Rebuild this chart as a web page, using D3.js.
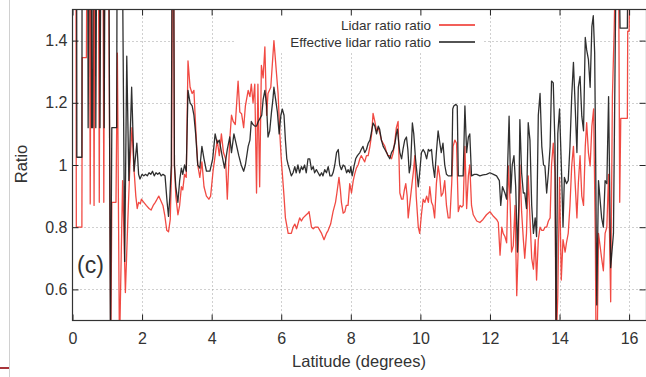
<!DOCTYPE html>
<html>
<head>
<meta charset="utf-8">
<script src="https://cdn.jsdelivr.net/npm/d3@7"></script>
<style>
  body { margin: 0; background: #fff; }
  svg { display: block; }
  text { font-family: "Liberation Sans", Arial, sans-serif; fill: #333; }
</style>
</head>
<body>
<div id="chart"></div>
<script>
// Latitude / value pairs (values past the frame are clipped)
var latLidar = [0.00,0.10,0.11,0.27,0.28,0.40,0.41,0.49,0.51,0.53,0.60,0.62,0.64,0.75,0.77,0.79,0.88,0.90,0.92,1.04,
  1.10,1.13,1.25,1.29,1.35,1.44,1.52,1.59,1.65,1.71,1.76,1.82,1.86,1.90,1.95,1.98,2.05,2.12,2.20,2.26,
  2.32,2.38,2.43,2.48,2.54,2.60,2.65,2.71,2.76,2.81,2.85,2.87,2.91,2.93,2.97,3.03,3.08,3.13,3.17,3.22,
  3.27,3.32,3.38,3.44,3.49,3.55,3.60,3.66,3.72,3.78,3.85,3.92,3.97,4.04,4.10,4.16,4.22,4.28,4.34,4.40,
  4.45,4.52,4.57,4.62,4.68,4.76,4.81,4.86,4.92,4.97,5.05,5.10,5.14,5.19,5.24,5.29,5.33,5.38,5.43,5.48,
  5.53,5.58,5.62,5.70,5.79,5.86,5.91,5.96,6.00,6.08,6.12,6.20,6.29,6.34,6.39,6.44,6.53,6.58,6.63,6.72,
  6.77,6.80,6.87,6.92,6.97,7.06,7.11,7.16,7.23,7.30,7.35,7.42,7.49,7.56,7.60,7.66,7.70,7.73,7.78,7.83,
  7.87,7.92,7.97,8.02,8.07,8.11,8.16,8.21,8.26,8.30,8.35,8.40,8.45,8.50,8.55,8.60,8.64,8.69,8.74,8.79,
  8.84,8.88,8.93,8.98,9.03,9.07,9.12,9.17,9.22,9.27,9.31,9.36,9.41,9.46,9.50,9.54,9.58,9.62,9.65,9.70,
  9.74,9.80,9.84,9.88,9.94,9.98,10.03,10.08,10.13,10.18,10.23,10.27,10.32,10.36,10.41,10.46,10.51,10.56,10.60,10.65,
  10.70,10.75,10.80,10.85,10.90,10.94,10.99,11.04,11.09,11.14,11.19,11.23,11.28,11.33,11.38,11.42,11.47,11.52,11.62,11.71,
  11.80,11.90,12.00,12.10,12.19,12.24,12.29,12.34,12.38,12.43,12.48,12.53,12.58,12.62,12.67,12.72,12.77,12.82,12.86,12.91,
  12.96,13.00,13.05,13.10,13.15,13.20,13.25,13.30,13.34,13.39,13.44,13.49,13.54,13.58,13.63,13.68,13.73,13.77,13.82,13.87,
  13.90,13.95,14.00,14.05,14.10,14.16,14.20,14.25,14.30,14.35,14.40,14.45,14.50,14.54,14.59,14.64,14.69,14.74,14.78,14.83,
  14.88,14.93,14.98,15.03,15.05,15.08,15.12,15.21,15.26,15.31,15.36,15.41,15.47,15.52,15.57,15.60,15.70,15.73,15.76,15.95,
  15.96,16.00,16.02,16.05];
var lidarRatio = [1.60,1.60,0.80,0.80,1.345,1.345,1.60,1.60,0.875,1.60,1.60,0.87,1.60,1.60,0.88,1.60,1.60,0.88,1.60,1.60,
  0.40,0.88,0.88,1.36,0.40,0.95,0.59,0.82,1.00,1.12,1.00,0.90,0.86,0.88,0.875,0.89,0.88,0.87,0.86,0.855,
  0.87,0.88,0.89,0.90,0.885,0.87,0.84,0.79,0.785,0.825,1.00,1.60,1.60,1.00,0.90,0.84,0.87,0.93,0.92,0.97,
  0.96,1.335,1.25,1.23,1.24,1.10,1.00,0.96,1.01,0.93,0.90,0.89,0.90,0.98,1.03,1.08,1.03,1.10,1.04,1.02,
  0.89,1.08,1.16,1.14,1.13,1.27,1.17,1.165,1.12,1.19,1.24,1.22,1.26,1.20,1.26,0.91,1.26,0.93,1.32,1.28,
  1.38,1.16,1.23,1.25,1.40,1.30,1.23,1.10,1.02,0.90,0.83,0.78,0.78,0.80,0.81,0.795,0.83,0.82,0.83,0.84,
  0.845,0.85,0.80,0.795,0.80,0.80,0.79,0.78,0.76,0.78,0.79,0.81,0.85,0.88,0.91,0.96,0.92,0.88,0.845,0.85,
  0.87,0.87,0.94,0.91,0.95,0.97,0.99,1.00,1.02,1.03,1.02,1.01,1.03,1.03,1.06,1.10,1.166,1.14,1.11,1.12,
  1.10,1.08,1.07,1.06,1.04,1.03,1.03,1.02,1.04,1.08,1.12,1.14,0.91,0.89,0.89,0.92,0.94,0.90,0.83,0.88,
  0.92,0.98,1.03,0.90,0.80,0.78,0.84,0.89,0.88,0.90,0.88,0.93,0.88,0.87,0.83,0.94,0.997,0.96,0.90,0.91,
  0.95,0.87,0.83,0.83,0.94,1.06,1.08,1.07,0.85,0.87,0.865,0.87,1.06,0.86,0.965,1.00,0.87,0.84,0.82,0.815,
  0.825,0.84,0.85,0.835,0.825,0.815,0.71,0.80,0.78,0.77,0.75,0.997,0.88,0.72,0.74,0.87,0.58,0.76,1.00,0.85,
  0.76,0.70,0.78,0.965,0.83,0.70,0.665,0.76,0.63,0.76,0.80,0.79,0.79,0.80,0.80,0.82,0.83,1.00,1.07,0.975,
  0.40,0.58,0.96,0.63,0.76,0.72,0.75,0.78,0.87,0.997,1.06,0.94,0.83,0.94,1.03,0.90,0.87,1.06,1.136,1.04,
  0.997,1.125,1.18,0.76,0.40,0.40,0.78,0.70,0.66,0.78,0.80,0.97,0.56,1.22,1.43,1.60,1.60,0.88,1.15,1.15,
  1.43,1.43,1.60,1.60];

var latEffective = [0.00,0.12,0.125,0.27,0.275,0.44,0.45,0.47,0.54,0.55,0.58,0.59,0.66,0.67,0.69,0.78,0.79,0.81,0.90,0.91,
  0.93,1.05,1.09,1.13,1.27,1.28,1.44,1.50,1.56,1.62,1.70,1.77,1.85,1.90,1.94,2.00,2.05,2.10,2.15,2.20,
  2.25,2.30,2.35,2.40,2.45,2.50,2.55,2.60,2.66,2.72,2.76,2.80,2.84,2.86,2.91,2.93,2.97,3.03,3.08,3.13,
  3.17,3.22,3.27,3.32,3.38,3.44,3.49,3.54,3.60,3.66,3.72,3.78,3.85,3.95,4.03,4.10,4.16,4.22,4.30,4.37,
  4.45,4.52,4.57,4.64,4.70,4.78,4.85,4.92,4.97,5.05,5.10,5.14,5.19,5.24,5.29,5.34,5.39,5.44,5.48,5.53,
  5.58,5.62,5.67,5.72,5.76,5.79,5.84,5.89,5.94,5.99,6.03,6.08,6.12,6.16,6.20,6.24,6.29,6.34,6.39,6.43,
  6.48,6.53,6.58,6.62,6.67,6.72,6.77,6.82,6.87,6.92,6.96,7.01,7.06,7.11,7.16,7.20,7.25,7.30,7.35,7.40,
  7.45,7.49,7.54,7.59,7.64,7.68,7.73,7.78,7.83,7.88,7.92,7.97,8.00,8.04,8.09,8.14,8.19,8.26,8.30,8.35,
  8.40,8.45,8.50,8.55,8.60,8.64,8.69,8.74,8.79,8.83,8.88,8.93,8.98,9.03,9.07,9.12,9.17,9.22,9.27,9.31,
  9.34,9.38,9.41,9.46,9.50,9.55,9.60,9.64,9.68,9.72,9.77,9.81,9.86,9.91,9.94,9.98,10.03,10.08,10.13,10.18,
  10.23,10.27,10.32,10.36,10.41,10.46,10.51,10.56,10.60,10.65,10.70,10.75,10.80,10.90,10.93,10.96,11.02,11.06,11.09,11.23,
  11.28,11.33,11.38,11.42,11.47,11.55,11.62,11.71,11.80,11.90,12.00,12.10,12.19,12.27,12.31,12.36,12.43,12.48,12.55,12.60,
  12.64,12.69,12.74,12.79,12.83,12.86,12.91,12.96,13.00,13.05,13.10,13.15,13.20,13.25,13.30,13.34,13.39,13.44,13.49,13.54,
  13.58,13.63,13.68,13.73,13.77,13.82,13.87,13.90,13.95,14.00,14.06,14.10,14.14,14.20,14.25,14.30,14.35,14.40,14.45,14.50,
  14.54,14.59,14.64,14.69,14.74,14.78,14.83,14.88,14.93,14.97,15.01,15.04,15.07,15.12,15.21,15.26,15.31,15.36,15.41,15.47,
  15.55,15.62,15.72,15.74,15.95,15.96,16.05];
var effectiveRatio = [1.60,1.60,1.025,1.025,1.60,1.60,1.12,1.60,1.60,1.12,1.12,1.60,1.60,1.12,1.60,1.60,1.12,1.60,1.60,1.12,
  1.60,1.60,0.40,1.12,1.12,1.60,1.60,0.69,1.35,0.95,1.25,0.98,1.07,0.97,0.955,0.97,0.965,0.97,0.965,0.975,
  0.97,0.98,0.965,0.975,0.97,0.975,0.965,0.97,0.965,0.88,0.835,0.90,1.00,1.60,1.60,1.00,0.93,0.88,0.95,0.99,
  0.97,1.00,0.98,1.24,1.20,1.19,1.16,1.10,1.00,0.99,1.06,1.02,0.98,0.98,1.02,1.10,1.07,1.08,1.03,0.99,
  1.05,1.09,1.04,1.10,1.07,1.03,1.00,0.98,1.00,1.06,1.08,1.14,1.13,1.125,1.125,1.14,1.15,1.16,1.21,1.24,
  1.19,1.09,1.11,1.17,1.21,1.25,1.21,1.17,1.10,1.16,1.18,1.16,1.08,1.02,1.00,0.985,0.965,0.975,0.995,0.975,
  1.00,0.975,0.995,0.985,1.00,0.975,1.02,1.02,0.985,0.995,0.975,0.985,0.975,0.965,0.975,0.965,0.985,0.975,0.995,0.965,
  0.965,0.975,1.00,1.04,1.05,1.00,0.985,1.00,0.995,0.975,0.985,0.975,0.995,0.965,0.995,1.02,1.03,1.04,1.05,1.06,
  1.04,1.05,1.07,1.08,1.11,1.135,1.125,1.10,1.125,1.115,1.08,1.06,1.05,1.04,1.03,1.02,1.04,1.05,1.07,1.10,
  1.115,1.07,1.04,1.02,1.05,1.08,1.09,1.05,0.975,1.00,1.135,1.10,1.02,0.965,0.93,0.975,1.04,1.05,1.04,1.02,
  1.05,1.045,1.05,1.00,0.96,1.04,1.11,1.07,1.04,1.07,1.00,0.97,0.965,0.965,1.18,1.19,1.195,1.19,0.965,0.965,
  1.19,1.04,1.09,1.10,0.965,0.97,0.97,0.965,0.968,0.97,0.975,0.97,0.965,0.95,0.87,0.93,0.91,0.89,1.157,0.91,
  1.00,1.03,0.93,0.72,0.87,1.146,0.975,0.91,0.91,0.86,1.136,1.08,0.87,0.78,0.83,0.77,1.16,1.23,1.06,1.00,
  0.997,0.91,0.975,1.06,1.27,1.264,1.06,0.45,1.10,1.18,0.97,0.80,0.96,0.94,0.95,1.06,1.22,1.33,1.19,1.04,
  1.25,1.285,1.157,1.11,1.41,1.37,1.34,1.25,1.446,1.48,1.36,1.00,0.55,0.95,0.83,0.80,0.95,0.94,1.22,0.67,
  0.78,1.60,1.60,1.44,1.44,1.60,1.60];

var xTicks = [0, 2, 4, 6, 8, 10, 12, 14, 16];
var yTicks = [0.6, 0.8, 1.0, 1.2, 1.4];
var seriesNames = ["Lidar ratio ratio", "Effective lidar ratio ratio"];

var width = 646, height = 377;
var plotLeft = 72.5, plotTop = 9.5, plotBottom = 320.5, plotRight = 646.5;

var svg = d3.select("#chart").append("svg")
  .attr("width", width)
  .attr("height", height);

var x = d3.scaleLinear().domain([0, 16.5]).range([plotLeft, plotRight]);
var y = d3.scaleLinear().domain([0.5, 1.5]).range([plotBottom, plotTop]);

// page edge artefacts seen at the left of the picture
svg.append("line").attr("x1", 9.5).attr("x2", 9.5).attr("y1", 0).attr("y2", height)
  .attr("stroke", "#d0d0d0").attr("stroke-width", 1);
svg.append("line").attr("x1", 0).attr("x2", 9).attr("y1", 368).attr("y2", 368)
  .attr("stroke", "#a8343a").attr("stroke-width", 2);

// dotted grid
var grid = svg.append("g")
  .attr("stroke", "#a0a0a0").attr("stroke-width", 1).attr("stroke-dasharray", "1,3");
grid.selectAll(".gx").data(xTicks.slice(1)).enter().append("line")
  .attr("x1", function(d) { return Math.round(x(d)) + 0.5 })
  .attr("x2", function(d) { return Math.round(x(d)) + 0.5 })
  .attr("y1", plotTop).attr("y2", plotBottom);
grid.selectAll(".gy").data(yTicks).enter().append("line")
  .attr("y1", function(d) { return Math.round(y(d)) + 0.5 })
  .attr("y2", function(d) { return Math.round(y(d)) + 0.5 })
  .attr("x1", plotLeft).attr("x2", plotRight);

// the key hides the grid behind it
svg.append("rect").attr("x", 236).attr("y", plotTop + 1).attr("width", 246).attr("height", 42)
  .attr("fill", "#fff");

svg.append("clipPath").attr("id", "plotclip").append("rect")
  .attr("x", plotLeft).attr("y", plotTop).attr("width", plotRight - plotLeft).attr("height", plotBottom - plotTop);

function makeRows(lats, vals) {
  return lats.map(function(d, i) { return [d, vals[i]] });
}

var line = d3.line()
  .x(function(d) { return x(d[0]) })
  .y(function(d) { return y(d[1]) });

var plot = svg.append("g").attr("clip-path", "url(#plotclip)");

plot.append("path")
  .datum(makeRows(latLidar, lidarRatio))
  .attr("d", line)
  .attr("fill", "none")
  .attr("stroke", "#ee2a22")
  .attr("stroke-opacity", 0.85)
  .attr("stroke-width", 1.3)
  .attr("stroke-linejoin", "round");

plot.append("path")
  .datum(makeRows(latEffective, effectiveRatio))
  .attr("d", line)
  .attr("fill", "none")
  .attr("stroke", "#1a1a1a")
  .attr("stroke-opacity", 0.9)
  .attr("stroke-width", 1.3)
  .attr("stroke-linejoin", "round");

// axes with inward ticks
var fmtY = function(d) { return d === 1 ? "1" : d3.format(".1f")(d) };

var axB = svg.append("g").attr("transform", "translate(0," + plotBottom + ")")
  .call(d3.axisBottom(x).tickValues(xTicks).tickSizeInner(-6).tickSizeOuter(0).tickPadding(12).tickFormat(d3.format("d")));
var axT = svg.append("g").attr("transform", "translate(0," + plotTop + ")")
  .call(d3.axisTop(x).tickValues(xTicks).tickSizeInner(-6).tickSizeOuter(0).tickFormat(""));
var axL = svg.append("g").attr("transform", "translate(" + plotLeft + ",0)")
  .call(d3.axisLeft(y).tickValues(yTicks).tickSizeInner(-6).tickSizeOuter(0).tickPadding(5).tickFormat(fmtY));
var axR = svg.append("g").attr("transform", "translate(" + (plotRight - 1) + ",0)")
  .call(d3.axisRight(y).tickValues(yTicks).tickSizeInner(-6).tickSizeOuter(0).tickFormat(""));

[axB, axT, axL, axR].forEach(function(a) {
  a.select(".domain").remove();
  a.selectAll("line").attr("stroke", "#222");
  a.selectAll("text").attr("font-size", 16).attr("fill", "#333")
    .attr("font-family", "'Liberation Sans', Arial, sans-serif");
});

svg.append("rect")
  .attr("x", plotLeft).attr("y", plotTop)
  .attr("width", plotRight - plotLeft).attr("height", plotBottom - plotTop)
  .attr("fill", "none").attr("stroke", "#333").attr("stroke-width", 1.2);

// axis titles
svg.append("text")
  .attr("x", 359).attr("y", 367)
  .attr("text-anchor", "middle")
  .attr("font-size", 16.5)
  .text("Latitude (degrees)");

svg.append("text")
  .attr("transform", "translate(27,164) rotate(-90)")
  .attr("text-anchor", "middle")
  .attr("font-size", 16.5)
  .text("Ratio");

// panel label
svg.append("text")
  .attr("x", 77).attr("y", 273)
  .attr("font-family", "'Open Sans', 'Noto Sans', sans-serif")
  .attr("font-size", 23)
  .attr("fill", "#111")
  .text("(c)");

// key
var keyColors = ["#ee2a22", "#1a1a1a"];
var key = svg.append("g");
seriesNames.forEach(function(name, i) {
  var ky = 25 + i * 17;
  key.append("text")
    .attr("x", 431).attr("y", ky + 5)
    .attr("text-anchor", "end")
    .attr("font-size", 13.5)
    .text(name);
  key.append("line")
    .attr("x1", 439).attr("x2", 475).attr("y1", ky).attr("y2", ky)
    .attr("stroke", keyColors[i]).attr("stroke-width", 1.3);
});
</script>
</body>
</html>
